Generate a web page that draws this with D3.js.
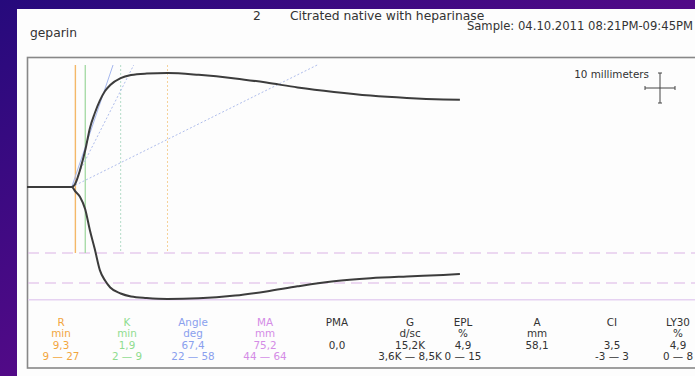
<!DOCTYPE html>
<html>
<head>
<meta charset="utf-8">
<script src="https://cdn.jsdelivr.net/npm/d3@7"></script>
<style>
  body { margin: 0; background: #2a0a80; }
  svg { display: block; }
  text { font-family: "DejaVu Sans", Verdana, sans-serif; }
</style>
</head>
<body>
<svg id="chart" width="695" height="376"></svg>
<script>
// ---- Tracing: time (min) and deflection above / below the baseline (mm)
const traceTime  = [0, 8.6, 9.3, 10.2, 11.2, 12.1, 13.0, 14.0, 15.0, 16.0, 18.0, 20.0, 23.0, 27.0, 33.0, 40.0, 46.0, 52.0, 59.0, 66.0, 73.0, 80.0, 83.2];
const traceUpper = [0, 0, 1.2, 5.7, 12.3, 19.7, 24.5, 28.8, 32.0, 34.0, 36.3, 37.3, 37.8, 38.0, 37.4, 36.2, 34.8, 33.2, 31.7, 30.5, 29.7, 29.2, 29.1];
const traceLower = [0, 0, 1.5, 3.3, 7.5, 14.5, 20.5, 27.7, 31.2, 33.5, 35.5, 36.5, 37.0, 37.3, 37.1, 36.2, 34.8, 33.1, 31.4, 30.4, 29.8, 29.3, 29.0];

// ---- Time markers (min) and which parameter they belong to
const markerTime  = [9.3, 11.2, 18.0, 27.0];
const markerParam = ["R", "K", "K", "R"];
const markerKind  = ["value", "value", "limit", "limit"];

// ---- Angle lines (deg)
const angleValues = [67.4, 58, 22];
const angleKind   = ["value", "limit", "limit"];

// ---- MA lines (mm, full width)
const maLines = [44, 64, 75.2];
const maKind  = ["limit", "limit", "value"];

// ---- Parameter table
const paramNames  = ["R", "K", "Angle", "MA", "PMA", "G", "EPL", "A", "CI", "LY30"];
const paramUnits  = ["min", "min", "deg", "mm", "", "d/sc", "%", "mm", "", "%"];
const paramValues = ["9,3", "1,9", "67,4", "75,2", "0,0", "15,2K", "4,9", "58,1", "3,5", "4,9"];
const paramRanges = ["9 — 27", "2 — 9", "22 — 58", "44 — 64", "", "3,6K — 8,5K", "0 — 15", "", "-3 — 3", "0 — 8"];

// ---- Header
const sampleNo   = "2";
const sampleDesc = "Citrated native with heparinase";
const patient    = "geparin";
const sampleTime = "Sample: 04.10.2011 08:21PM-09:45PM";

// ---------------------------------------------------------------- drawing
const W = 695, H = 376;
const svg = d3.select("#chart");
const paramColor = { R: "#f2a640", K: "#8fdc8f", Angle: "#8aa0ee", MA: "#d48ce6" };
const textColor = "#333";

const defs = svg.append("defs");
const bg = defs.append("linearGradient").attr("id", "bg")
  .attr("x1", 0).attr("y1", 0).attr("x2", 1).attr("y2", 1);
bg.append("stop").attr("offset", "0%").attr("stop-color", "#260a7c");
bg.append("stop").attr("offset", "100%").attr("stop-color", "#7c0a92");
svg.append("rect").attr("width", W).attr("height", H).attr("fill", "url(#bg)");
svg.append("rect").attr("x", 17).attr("y", 9).attr("width", W - 17).attr("height", H - 9).attr("fill", "#fdfdfd");

// header texts
svg.append("text").attr("x", 257).attr("y", 20).attr("text-anchor", "middle")
  .attr("font-size", 12.3).attr("fill", textColor).text(sampleNo);
svg.append("text").attr("x", 290).attr("y", 20)
  .attr("font-size", 12.3).attr("fill", textColor).text(sampleDesc);
svg.append("text").attr("x", 30).attr("y", 37)
  .attr("font-size", 12.3).attr("fill", textColor).text(patient);
svg.append("text").attr("x", 693).attr("y", 30).attr("text-anchor", "end")
  .attr("font-size", 11.6).attr("fill", textColor).text(sampleTime);

// plot frame
svg.append("rect").attr("x", 27.5).attr("y", 57.5).attr("width", W).attr("height", 310.5)
  .attr("fill", "none").attr("stroke", "#888").attr("stroke-width", 1.6);

// scales: time in minutes, deflection in mm (3 px per mm)
const x = d3.scaleLinear().domain([0, 128]).range([27, 693]);
const y = d3.scaleLinear().domain([-40, 40]).range([307, 67]);
const plotTop = 65;

const g = svg.append("g");

// MA lines (drawn below the baseline)
const maStyle = {
  limit: { stroke: "#dcb4e6", dash: "11,6", width: 1.2 },
  value: { stroke: "#e6d2f2", dash: null, width: 1.6 }
};
maLines.forEach((ma, i) => {
  const s = maStyle[maKind[i]];
  g.append("line").attr("x1", 28).attr("x2", W)
    .attr("y1", y(-ma / 2)).attr("y2", y(-ma / 2))
    .attr("stroke", s.stroke).attr("stroke-width", s.width)
    .attr("stroke-dasharray", s.dash);
});

// time markers
const markerColor = { R: { value: "#f4b868", limit: "#f6d29a" }, K: { value: "#a8dca8", limit: "#b4dcc8" } };
markerTime.forEach((t, i) => {
  g.append("line").attr("x1", x(t)).attr("x2", x(t))
    .attr("y1", plotTop).attr("y2", y(-maLines[0] / 2))
    .attr("stroke", markerColor[markerParam[i]][markerKind[i]])
    .attr("stroke-width", markerKind[i] === "value" ? 1.4 : 1)
    .attr("stroke-dasharray", markerKind[i] === "value" ? null : "2,2");
});

// angle lines from the point where the trace leaves the baseline
const angleAspect = 1.23;
const x0 = x(traceTime[1]), y0 = y(0);
angleValues.forEach((a, i) => {
  const slope = Math.tan(a * Math.PI / 180) * angleAspect;
  const dy = y0 - plotTop;
  g.append("line").attr("x1", x0).attr("y1", y0)
    .attr("x2", x0 + dy / slope).attr("y2", plotTop)
    .attr("stroke", angleKind[i] === "value" ? "#a6b8ee" : "#afbdec")
    .attr("stroke-width", 1)
    .attr("stroke-dasharray", angleKind[i] === "value" ? null : "2,2");
});

// tracing
const upper = traceTime.map((t, i) => [x(t), y(traceUpper[i])]);
const lower = traceTime.map((t, i) => [x(t), y(-traceLower[i])]);
const line = d3.line().curve(d3.curveMonotoneX);
[upper, lower].forEach(pts => {
  g.append("path").attr("d", line(pts)).attr("fill", "none")
    .attr("stroke", "#3c3c3c").attr("stroke-width", 2).attr("stroke-linejoin", "round");
});

// 10 mm scale cross
const cx = 660, cy = 88, half = 15;
const cross = svg.append("g").attr("stroke", "#444").attr("stroke-width", 1);
cross.append("line").attr("x1", cx - half).attr("x2", cx + half).attr("y1", cy).attr("y2", cy);
cross.append("line").attr("x1", cx).attr("x2", cx).attr("y1", cy - half).attr("y2", cy + half);
cross.append("line").attr("x1", cx - half).attr("x2", cx - half).attr("y1", cy - 2).attr("y2", cy + 2);
cross.append("line").attr("x1", cx + half).attr("x2", cx + half).attr("y1", cy - 2).attr("y2", cy + 2);
cross.append("line").attr("x1", cx - 2).attr("x2", cx + 2).attr("y1", cy - half).attr("y2", cy - half);
cross.append("line").attr("x1", cx - 2).attr("x2", cx + 2).attr("y1", cy + half).attr("y2", cy + half);
svg.append("text").attr("x", 649).attr("y", 78).attr("text-anchor", "end")
  .attr("font-size", 10.4).attr("fill", textColor).text("10 millimeters");

// parameter table
const colX = [61, 127, 193, 265, 337, 410, 463, 537, 612, 678];
const rowY = [326, 337, 348.5, 360];
paramNames.forEach((name, i) => {
  const col = svg.append("g").attr("text-anchor", "middle").attr("font-size", 10.4)
    .attr("fill", paramColor[name] || textColor);
  [name, paramUnits[i], paramValues[i], paramRanges[i]].forEach((s, r) => {
    if (s) col.append("text").attr("x", colX[i]).attr("y", rowY[r]).text(s);
  });
});
</script>
</body>
</html>
